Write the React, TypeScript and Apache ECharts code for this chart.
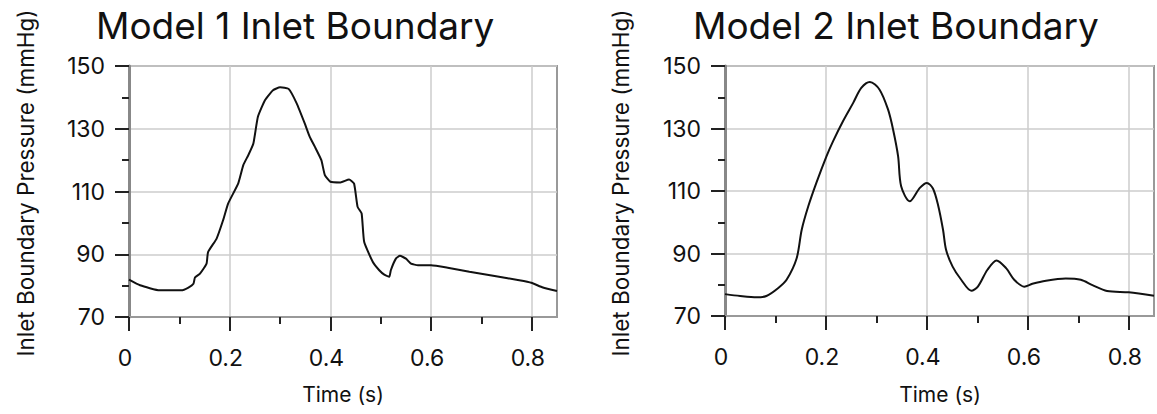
import React, { useEffect, useRef } from "react";
import * as echarts from "echarts";

const titles = ["Model 1 Inlet Boundary", "Model 2 Inlet Boundary"];
const xAxisName = "Time (s)";
const yAxisName = "Inlet Boundary Pressure (mmHg)";

const xMajorTicks = [0, 0.2, 0.4, 0.6, 0.8];
const xMinorTicks = [0.1, 0.3, 0.5, 0.7];
const xMin = 0;
const xMax = 0.85;
const yMin = 70;
const yMax = 150;
const yInterval = 20;

const time1 = [
  0, 0.022, 0.061, 0.104, 0.118, 0.128, 0.131, 0.141, 0.154, 0.157, 0.174, 0.187, 0.197, 0.217,
  0.227, 0.237, 0.247, 0.256, 0.27, 0.286, 0.3, 0.317, 0.333, 0.349, 0.359, 0.369, 0.382, 0.389,
  0.4, 0.42, 0.437, 0.447, 0.454, 0.462, 0.467, 0.484, 0.497, 0.507, 0.517, 0.52, 0.53, 0.538,
  0.55, 0.56, 0.574, 0.6, 0.633, 0.676, 0.729, 0.775, 0.799, 0.822, 0.85,
];
const pressure1 = [
  81.9, 80.1, 78.5, 78.5, 79.4, 80.6, 82.6, 83.8, 87, 90.7, 95, 100.9, 106.2, 112.6,
  118.4, 121.6, 125.3, 133.8, 139.1, 142.3, 143.2, 142.7, 138.1, 131.7, 127.4, 124.3, 120, 115.2,
  113.1, 112.9, 113.8, 112.5, 105.1, 103, 94, 87.6, 84.9, 83.5, 82.8, 84.9, 88.6, 89.5,
  88.6, 87, 86.5, 86.5, 85.7, 84.4, 83, 81.7, 80.9, 79.4, 78.3,
];

const time2 = [
  0, 0.03, 0.063, 0.082, 0.105, 0.122, 0.142, 0.152, 0.165, 0.181, 0.201, 0.214, 0.234, 0.254,
  0.27, 0.287, 0.306, 0.323, 0.333, 0.343, 0.349, 0.366, 0.386, 0.4, 0.412, 0.422, 0.432, 0.438,
  0.451, 0.468, 0.488, 0.501, 0.52, 0.538, 0.557, 0.573, 0.593, 0.609, 0.636, 0.675, 0.705, 0.728,
  0.757, 0.8, 0.85,
];
const pressure2 = [
  77, 76.4, 76, 76.4, 78.9, 81.6, 88.5, 97.6, 105.1, 112.6, 121.1, 125.9, 132.4, 138.2,
  143, 144.9, 142.5, 136.1, 129.7, 121.1, 111.5, 106.7, 111, 112.6, 110.8, 105.6, 97.6, 91.2,
  85.8, 81.6, 78.1, 79.4, 84.8, 87.8, 85.3, 81.6, 79.4, 80.3, 81.3, 82, 81.6, 79.9,
  78, 77.6, 76.5,
];

const FONT = "Inter, 'Liberation Sans', sans-serif";
const TEXT = "#111";

export default function App() {
  const ref = useRef<HTMLDivElement>(null);

  useEffect(() => {
    if (!ref.current) return;
    const chart = echarts.init(ref.current, undefined, { renderer: "svg" });

    const grids = [
      { left: 129, top: 66, width: 428, height: 251 },
      { left: 725, top: 66, width: 429, height: 250 },
    ];
    const titleX = [96, 693];
    const yNameX = [25, 620];
    const xNameX = [343, 940];

    const xAxes: any[] = [];
    const yAxes: any[] = [];
    grids.forEach((_, i) => {
      xAxes.push({
        type: "value",
        gridIndex: i,
        min: xMin,
        max: xMax,
        interval: 0.2,
        axisLine: { show: true, onZero: false, lineStyle: { color: "#999", width: 2 } },
        axisTick: {
          show: true,
          customValues: xMajorTicks,
          length: 14,
          lineStyle: { color: "#222", width: 2 },
        },
        axisLabel: {
          customValues: xMajorTicks,
          margin: 29,
          fontSize: 23,
          fontFamily: FONT,
          color: TEXT,
          padding: [0, 8, 0, 0],
          formatter: (v: number) => String(v),
        },
        splitLine: { show: true, lineStyle: { color: "#cccccc", width: 1.5 } },
      });
      xAxes.push({
        type: "value",
        gridIndex: i,
        min: xMin,
        max: xMax,
        position: "bottom",
        axisLine: { show: false },
        axisTick: {
          show: true,
          customValues: xMinorTicks,
          length: 7,
          lineStyle: { color: "#222", width: 2 },
        },
        axisLabel: { show: false },
        splitLine: { show: false },
      });
      yAxes.push({
        type: "value",
        gridIndex: i,
        min: yMin,
        max: yMax,
        interval: yInterval,
        axisLine: { show: true, onZero: false, lineStyle: { color: "#888", width: 3 } },
        axisTick: { show: true, length: 14, lineStyle: { color: "#222", width: 2 } },
        minorTick: { show: true, splitNumber: 2, length: 7, lineStyle: { color: "#222", width: 2 } },
        axisLabel: { margin: 24, fontSize: 23, fontFamily: FONT, color: TEXT },
        splitLine: { show: true, lineStyle: { color: "#cccccc", width: 1.5 } },
      });
    });

    const graphics: any[] = [];
    grids.forEach((_, i) => {
      graphics.push({
        type: "text",
        x: titleX[i],
        y: 25,
        style: {
          text: titles[i],
          font: `37px ${FONT}`,
          fill: TEXT,
          textAlign: "left",
          textVerticalAlign: "middle",
        },
      });
      graphics.push({
        type: "text",
        x: yNameX[i],
        y: 183,
        rotation: Math.PI / 2,
        style: {
          text: yAxisName,
          font: `22.5px ${FONT}`,
          fill: TEXT,
          textAlign: "center",
          textVerticalAlign: "middle",
        },
      });
      graphics.push({
        type: "text",
        x: xNameX[i],
        y: 394,
        style: {
          text: xAxisName,
          font: `21px ${FONT}`,
          fill: TEXT,
          textAlign: "center",
          textVerticalAlign: "middle",
        },
      });
    });

    const data1 = time1.map((t, k) => [t, pressure1[k]]);
    const data2 = time2.map((t, k) => [t, pressure2[k]]);

    chart.setOption({
      animation: false,
      backgroundColor: "#fff",
      grid: grids.map((g) => ({
        ...g,
        show: true,
        borderColor: "#999",
        borderWidth: 2,
        backgroundColor: "transparent",
      })),
      xAxis: xAxes,
      yAxis: yAxes,
      graphic: graphics,
      series: [
        {
          type: "line",
          xAxisIndex: 0,
          yAxisIndex: 0,
          data: data1,
          showSymbol: false,
          smooth: 0.15,
          lineStyle: { color: "#111", width: 2 },
          z: 5,
        },
        {
          type: "line",
          xAxisIndex: 2,
          yAxisIndex: 1,
          data: data2,
          showSymbol: false,
          smooth: 0.3,
          lineStyle: { color: "#111", width: 2 },
          z: 5,
        },
      ],
    });

    return () => chart.dispose();
  }, []);

  return (
    <div
      ref={ref}
      style={{ position: "fixed", left: 0, top: 0, width: 1157, height: 414, background: "#fff" }}
    />
  );
}
